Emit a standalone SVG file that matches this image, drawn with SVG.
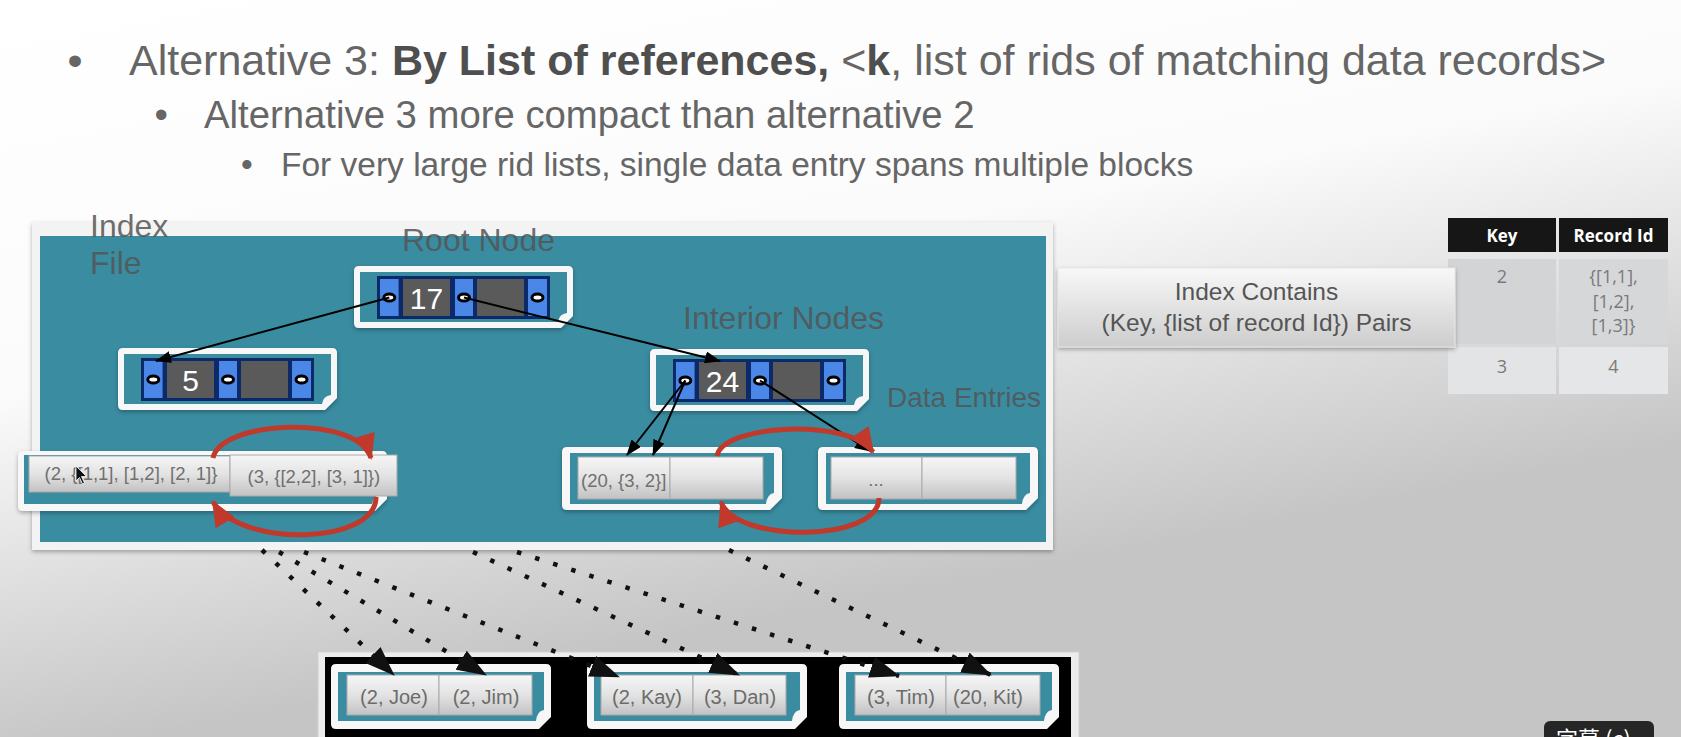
<svg xmlns="http://www.w3.org/2000/svg" width="1681" height="737" viewBox="0 0 1681 737">
  <defs>
    <linearGradient id="bg" gradientUnits="userSpaceOnUse" x1="0" y1="0" x2="140" y2="737">
      <stop offset="0" stop-color="#ffffff"/>
      <stop offset="0.52" stop-color="#fbfbfb"/>
      <stop offset="1" stop-color="#c4c5c4"/>
    </linearGradient>
    <linearGradient id="cellG" x1="0" y1="0" x2="0" y2="1">
      <stop offset="0" stop-color="#f6f6f6"/>
      <stop offset="0.5" stop-color="#e3e3e3"/>
      <stop offset="1" stop-color="#c2c2c2"/>
    </linearGradient>
    <linearGradient id="boxG" x1="0" y1="0" x2="0" y2="1">
      <stop offset="0" stop-color="#f8f8f8"/>
      <stop offset="1" stop-color="#cdcdcd"/>
    </linearGradient>
    <filter id="shadow" x="-5%" y="-10%" width="110%" height="130%">
      <feDropShadow dx="0" dy="2" stdDeviation="2" flood-color="#000" flood-opacity="0.3"/>
    </filter>
    <marker id="ah" markerUnits="userSpaceOnUse" markerWidth="16" markerHeight="12" refX="15" refY="6" orient="auto">
      <path d="M0,0 L16,6 L0,12 Z" fill="#000"/>
    </marker>
    <marker id="ahRed" markerUnits="userSpaceOnUse" markerWidth="26" markerHeight="22" refX="24" refY="11" orient="auto">
      <path d="M0,0 L26,11 L0,22 Z" fill="#c0392b"/>
    </marker>
    <marker id="ahBig" markerUnits="userSpaceOnUse" markerWidth="30" markerHeight="22" refX="29" refY="11" orient="auto">
      <path d="M0,0 L30,11 L0,22 Z" fill="#111"/>
    </marker>
  </defs>
  <style>
    text { font-family: "Liberation Sans", Arial, sans-serif; }
    .t { fill: #666666; }
    .b { font-weight: bold; fill: #4f4f4f; }
    .lbl { fill: #555555; fill-opacity: 0.85; font-size: 32px; }
    .frame { fill: #f7f7f7; }
    .pane { fill: #3a8ca1; }
    .navy { fill: #0c2a6a; }
    .ptr { fill: #4b87e6; }
    .key { fill: #5a5a5a; }
    .hole { fill: #ffffff; stroke: #000000; stroke-width: 3; }
    .ktxt { fill: #ffffff; font-size: 30px; text-anchor: middle; }
    .cell { fill: url(#cellG); stroke: #a9a9a9; stroke-width: 1; }
    .ctxt { fill: #707070; font-size: 18.5px; }
    .rtxt { fill: #6c6c6c; font-size: 20px; text-anchor: middle; }
    .ptrline { stroke: #000; stroke-width: 2; fill: none; marker-end: url(#ah); }
    .sib { stroke: #c0392b; stroke-width: 5; fill: none; marker-end: url(#ahRed); }
    .dots { stroke: #111; stroke-width: 4.5; stroke-dasharray: 4.5 14.5; fill: none; marker-end: url(#ahBig); }
    .th { fill: #ffffff; font-family: "Open Sans", sans-serif; font-weight: bold; font-size: 17px; text-anchor: middle; }
    .td { fill: #7a7a7a; font-family: "Open Sans", sans-serif; font-size: 18px; text-anchor: middle; }
  </style>

  <!-- background -->
  <rect x="0" y="0" width="1681" height="737" fill="url(#bg)"/>

  <!-- bullet text -->
  <g id="title">
    <text x="67.5" y="75" font-size="43" class="t">•</text>
    <text x="129" y="75" font-size="43" class="t">Alternative 3: <tspan class="b">By List of references,</tspan> &lt;<tspan class="b">k</tspan>, list of rids of matching data records&gt;</text>
    <text x="154.5" y="128" font-size="38.3" class="t">•</text>
    <text x="204" y="128" font-size="38.3" class="t">Alternative 3 more compact than alternative 2</text>
    <text x="241" y="176" font-size="33.5" class="t">•</text>
    <text x="281" y="176" font-size="33.5" class="t">For very large rid lists, single data entry spans multiple blocks</text>
  </g>

  <!-- index file panel -->
  <g id="index-panel">
    <rect x="32" y="222" width="1021" height="328" fill="#f3f3f3" filter="url(#shadow)"/>
    <rect x="40" y="236" width="1006" height="306" fill="#3a8ca1"/>
    <text x="90" y="237" class="lbl" font-size="31">Index</text>
    <text x="90" y="274" class="lbl" font-size="31">File</text>
    <text x="402" y="251" class="lbl">Root Node</text>
    <text x="683" y="329" class="lbl">Interior Nodes</text>
    <text x="887" y="407" class="lbl" style="font-size:28px">Data Entries</text>
  </g>

  <!-- root node -->
  <g id="node-root" transform="translate(354,266)">
    <path class="frame" filter="url(#shadow)" d="M5,0 H214 Q219,0 219,5 V50 L207,62 H5 Q0,62 0,57 V5 Q0,0 5,0 Z"/>
    <path class="pane" d="M6,6 H213 V47 Q205,48 204,56 H6 Z"/>
    <rect class="navy" x="23" y="10" width="173" height="43"/>
    <rect class="ptr" x="26" y="13" width="18.6" height="37"/>
    <rect class="key" x="49" y="13" width="47" height="37"/>
    <rect class="ptr" x="101" y="13" width="18" height="37"/>
    <rect class="key" x="123" y="13" width="47" height="37"/>
    <rect class="ptr" x="174" y="13" width="19" height="37"/>
    <ellipse class="hole" cx="35.3" cy="31.5" rx="5.5" ry="3.5"/>
    <ellipse class="hole" cx="110" cy="31.5" rx="5.5" ry="3.5"/>
    <ellipse class="hole" cx="183.5" cy="31.5" rx="5.5" ry="3.5"/>
    <text class="ktxt" x="72.5" y="42.5">17</text>
  </g>

  <!-- interior node 5 -->
  <g id="node-5" transform="translate(118,348)">
    <path class="frame" filter="url(#shadow)" d="M5,0 H214 Q219,0 219,5 V50 L207,62 H5 Q0,62 0,57 V5 Q0,0 5,0 Z"/>
    <path class="pane" d="M6,6 H213 V47 Q205,48 204,56 H6 Z"/>
    <rect class="navy" x="23" y="10" width="173" height="43"/>
    <rect class="ptr" x="26" y="13" width="18.6" height="37"/>
    <rect class="key" x="49" y="13" width="47" height="37"/>
    <rect class="ptr" x="101" y="13" width="18" height="37"/>
    <rect class="key" x="123" y="13" width="47" height="37"/>
    <rect class="ptr" x="174" y="13" width="19" height="37"/>
    <ellipse class="hole" cx="35.3" cy="31.5" rx="5.5" ry="3.5"/>
    <ellipse class="hole" cx="110" cy="31.5" rx="5.5" ry="3.5"/>
    <ellipse class="hole" cx="183.5" cy="31.5" rx="5.5" ry="3.5"/>
    <text class="ktxt" x="72.5" y="42.5">5</text>
  </g>

  <!-- interior node 24 -->
  <g id="node-24" transform="translate(650,349)">
    <path class="frame" filter="url(#shadow)" d="M5,0 H214 Q219,0 219,5 V50 L207,62 H5 Q0,62 0,57 V5 Q0,0 5,0 Z"/>
    <path class="pane" d="M6,6 H213 V47 Q205,48 204,56 H6 Z"/>
    <rect class="navy" x="23" y="10" width="173" height="43"/>
    <rect class="ptr" x="26" y="13" width="18.6" height="37"/>
    <rect class="key" x="49" y="13" width="47" height="37"/>
    <rect class="ptr" x="101" y="13" width="18" height="37"/>
    <rect class="key" x="123" y="13" width="47" height="37"/>
    <rect class="ptr" x="174" y="13" width="19" height="37"/>
    <ellipse class="hole" cx="35.3" cy="31.5" rx="5.5" ry="3.5"/>
    <ellipse class="hole" cx="110" cy="31.5" rx="5.5" ry="3.5"/>
    <ellipse class="hole" cx="183.5" cy="31.5" rx="5.5" ry="3.5"/>
    <text class="ktxt" x="72.5" y="42.5">24</text>
  </g>

  <!-- leaf page: keys 2 and 3 -->
  <g id="leaf-2-3" transform="translate(18,451)">
    <path class="frame" filter="url(#shadow)" d="M5,0 H364 Q369,0 369,5 V48 L357,60 H5 Q0,60 0,55 V5 Q0,0 5,0 Z"/>
    <path class="pane" d="M6,4 H362 V44 Q355,45 354,53 H6 Z"/>
    <rect class="cell" x="11" y="5" width="201" height="36"/>
    <text class="ctxt" x="26.6" y="29">(2, {[1,1], [1,2], [2, 1]}</text>
    <rect class="cell" x="212" y="4" width="167" height="41" stroke="#f4f4f4" stroke-width="1.5"/>
    <text class="ctxt" x="229.5" y="32">(3, {[2,2], [3, 1]})</text>
  </g>

  <!-- leaf page: key 20 -->
  <g id="leaf-20" transform="translate(562,447)">
    <path class="frame" filter="url(#shadow)" d="M5,0 H215 Q220,0 220,5 V51 L208,63 H5 Q0,63 0,58 V5 Q0,0 5,0 Z"/>
    <path class="pane" d="M8,6 H212 V46 Q205,47 204,57 H8 Z"/>
    <rect class="cell" x="16" y="10" width="92" height="42"/>
    <text class="ctxt" x="19" y="40">(20, {3, 2}]</text>
    <rect class="cell" x="108" y="10" width="93" height="42"/>
  </g>

  <!-- leaf page: continuation -->
  <g id="leaf-more" transform="translate(818,447)">
    <path class="frame" filter="url(#shadow)" d="M5,0 H215 Q220,0 220,5 V51 L208,63 H5 Q0,63 0,58 V5 Q0,0 5,0 Z"/>
    <path class="pane" d="M8,6 H212 V46 Q205,47 204,57 H8 Z"/>
    <rect class="cell" x="13" y="10" width="91" height="42"/>
    <text class="ctxt" x="58" y="39" text-anchor="middle">...</text>
    <rect class="cell" x="104" y="10" width="94" height="42"/>
  </g>

  <!-- data records block -->
  <g id="records">
    <rect x="318" y="652" width="761" height="90" fill="#ececec" stroke="#d0d0d0"/>
    <rect x="325" y="657" width="746" height="82" fill="#000"/>
  </g>
  <g id="page-1" transform="translate(331,664)">
    <path class="frame" d="M5,0 H215 Q220,0 220,5 V53 L208,65 H5 Q0,65 0,60 V5 Q0,0 5,0 Z"/>
    <path class="pane" d="M7,8 H213 V46 Q206,47 205,57 H7 Z"/>
    <rect class="cell" x="16" y="11" width="92" height="40"/>
    <rect class="cell" x="108" y="11" width="93" height="40"/>
    <text class="rtxt" x="63" y="39.5">(2, Joe)</text>
    <text class="rtxt" x="155" y="39.5">(2, Jim)</text>
  </g>
  <g id="page-2" transform="translate(587,664)">
    <path class="frame" d="M5,0 H215 Q220,0 220,5 V53 L208,65 H5 Q0,65 0,60 V5 Q0,0 5,0 Z"/>
    <path class="pane" d="M7,8 H213 V46 Q206,47 205,57 H7 Z"/>
    <rect class="cell" x="14" y="11" width="92" height="40"/>
    <rect class="cell" x="106" y="11" width="93" height="40"/>
    <text class="rtxt" x="60" y="39.5">(2, Kay)</text>
    <text class="rtxt" x="153" y="39.5">(3, Dan)</text>
  </g>
  <g id="page-3" transform="translate(839,664)">
    <path class="frame" d="M5,0 H215 Q220,0 220,5 V53 L208,65 H5 Q0,65 0,60 V5 Q0,0 5,0 Z"/>
    <path class="pane" d="M7,8 H213 V46 Q206,47 205,57 H7 Z"/>
    <rect class="cell" x="16" y="11" width="91" height="40"/>
    <rect class="cell" x="107" y="11" width="94" height="40"/>
    <text class="rtxt" x="62" y="39.5">(3, Tim)</text>
    <text class="rtxt" x="149" y="39.5">(20, Kit)</text>
  </g>

  <!-- key / record id table -->
  <g id="table">
    <rect x="1448" y="218" width="108" height="34" fill="#161616"/>
    <rect x="1559" y="218" width="109" height="34" fill="#161616"/>
    <text class="th" x="1502" y="242">Key</text>
    <text class="th" x="1613.5" y="242">Record Id</text>
    <rect x="1448" y="259" width="108" height="85" fill="#d3d4d6"/>
    <rect x="1559" y="259" width="109" height="85" fill="#d6d7d9"/>
    <text class="td" x="1502" y="283">2</text>
    <text class="td" x="1613.5" y="283">{[1,1],</text>
    <text class="td" x="1613.5" y="307.5">[1,2],</text>
    <text class="td" x="1613.5" y="332">[1,3]}</text>
    <rect x="1448" y="347" width="108" height="47" fill="#e3e4e5"/>
    <rect x="1559" y="347" width="109" height="47" fill="#e5e6e7"/>
    <text class="td" x="1502" y="373">3</text>
    <text class="td" x="1613.5" y="373">4</text>
  </g>

  <!-- explanation box -->
  <g id="index-contains">
    <rect x="1058" y="268" width="397" height="79" fill="url(#boxG)" stroke="#e6e6e6" filter="url(#shadow)"/>
    <text x="1256.5" y="300" font-size="24.5" fill="#555" text-anchor="middle">Index Contains</text>
    <text x="1256.5" y="331" font-size="24.5" fill="#555" text-anchor="middle">(Key, {list of record Id}) Pairs</text>
  </g>

  <!-- connectors -->
  <g id="connectors">
    <path class="ptrline" d="M389.3,297.5 L156,361"/>
    <path class="ptrline" d="M464,297.5 L720,361"/>
    <path class="ptrline" d="M685.3,380.5 L627,455"/>
    <path class="ptrline" d="M685.3,380.5 L653,455"/>
    <path class="ptrline" d="M760,380.5 L870,451"/>
    <path class="sib" d="M213,458 C220,420 358,414 371,458"/>
    <path class="sib" d="M376,497 C376,545 240,548 213,502"/>
    <path class="sib" d="M717,456 C722,424 850,418 873,452"/>
    <path class="sib" d="M879,498 C879,543 735,543 721,502"/>
    <path class="dots" d="M262,550 L394,675"/>
    <path class="dots" d="M279,552 L486,675"/>
    <path class="dots" d="M304,552 L619,677"/>
    <path class="dots" d="M473,552 L739,675"/>
    <path class="dots" d="M517,552 L899,676"/>
    <path class="dots" d="M729,550 L991,675"/>
  </g>

  <!-- pointer cursor -->
  <path d="M76,466 L76,481 L79.5,477.5 L82.5,484 L84.5,483 L81.5,476.5 L86.5,476.5 Z" fill="#111" stroke="#fff" stroke-width="0.8"/>

  <!-- caption button -->
  <g id="caption-button">
    <rect x="1544" y="721" width="110" height="34" rx="6" fill="#262626"/>
    <text x="1556" y="747" font-size="22" fill="#ffffff" style="font-family:'Noto Sans CJK SC', sans-serif">字幕 (c)</text>
  </g>
</svg>
